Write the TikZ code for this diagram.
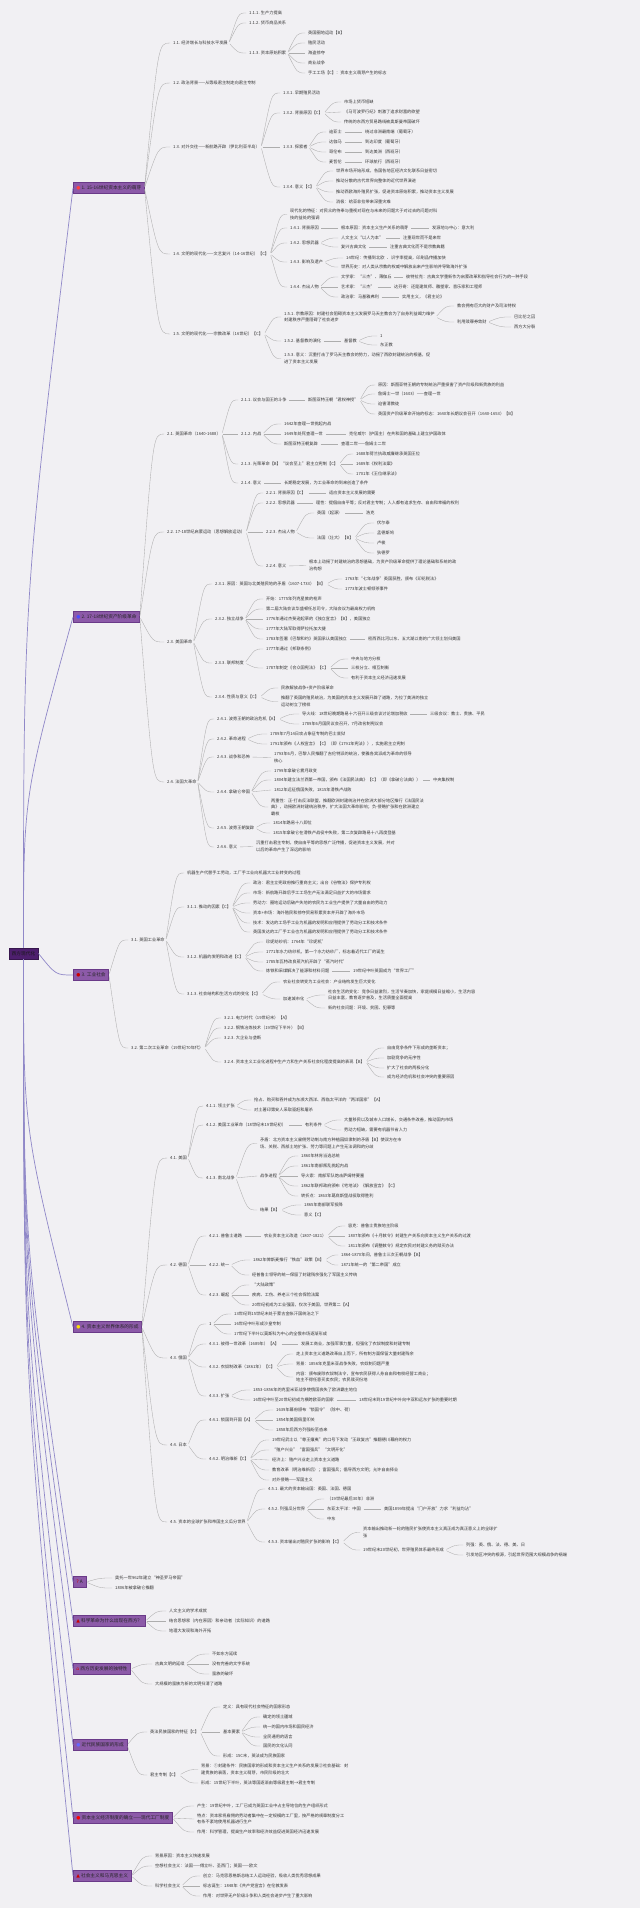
\documentclass[tikz,border=0pt]{standalone}
\usepackage{fontspec}
\setmainfont{Noto Sans CJK SC}
\newfontfamily\symfont{DejaVu Sans}
\usetikzlibrary{calc}
\definecolor{paper}{HTML}{F1F0F3}
\definecolor{ink}{HTML}{353535}
\definecolor{twig}{HTML}{ADADAD}
\definecolor{trunkc}{HTML}{9088C8}
\definecolor{plum}{HTML}{8C5AA8}
\definecolor{plumedge}{HTML}{6A3A88}
\definecolor{rootc}{HTML}{4E1F6E}
\newcommand\chapicon[2]{{\symfont\color{#1}#2}\hspace{1.2pt}}
\newcommand\kid[5]{\node[topic] (#2) at (#3,#4) {#5};
  \draw[branch] (#1.east) .. controls ($(#1.east |- #2.west)!0.5!(#2.west)$) .. (#2.west);}
\newcommand\trunkto[2]{\draw[trunk] (root.#1) .. controls ($(root.#1)!0.46!(root.#1 |- #2.west)$) .. (#2.west);}
\begin{document}
\begin{tikzpicture}[x = 1pt, y = -1pt,
    topic/.style = {anchor = west, inner xsep = 1pt, inner ysep = 0.6pt, align = left, text = ink, font = \fontsize{4.2}{6.6}\selectfont},
    chapter/.style = {anchor = west, fill = plum, draw = plumedge, line width = 0.5pt, inner xsep = 3pt, minimum height = 11pt, text = black!85, font = \fontsize{4.7}{5.5}\selectfont},
    rootbox/.style = {fill = rootc, draw = rootc!70!black, line width = 0.5pt, minimum height = 11pt, inner xsep = 3pt, text = black!90, font = \fontsize{4.7}{5.5}\selectfont},
    branch/.style = {draw = twig, line width = 0.35pt, shorten <= 1.5pt, shorten >= 2pt},
    trunk/.style = {draw = trunkc, line width = 0.7pt}]
    \fill[paper] (0,0) rectangle (640,1908);
    \useasboundingbox (0,0) rectangle (640,1908);

    \node[rootbox] (root) at (23.5,953.5) {西方现代化};

    \node[chapter] (A) at (73,188) {\chapicon{red!75!white}{●}1. 15-16世纪资本主义的萌芽};
    \node[chapter] (B) at (73,617) {\chapicon{blue!70!white}{●}2. 17-18世纪资产阶级革命};
    \node[chapter] (C) at (73,975) {\chapicon{red!80!black}{●}3. 工业社会};
    \node[chapter] (D) at (73,1327) {\chapicon{yellow!80!orange}{●}4. 资本主义世界体系的形成};
    \node[chapter] (E) at (73,1582) {\chapicon{red!80!black}{?}A};
    \node[chapter] (F) at (73,1621) {\chapicon{red!80!black}{▲}科学革命为什么出现在西方？};
    \node[chapter] (G) at (73,1669) {\chapicon{red!85!black}{⌂}西方历史发展的独特性};
    \node[chapter] (H) at (73,1745) {\chapicon{blue!60!white}{●}近代民族国家的形成};
    \node[chapter] (I) at (73,1818) {\chapicon{red}{●}资本主义经济制度的确立——现代工厂制度};
    \node[chapter] (J) at (73,1876) {\chapicon{red!80!black}{▲}社会主义和马克思主义};

    \trunkto{north}{A}
    \trunkto{north}{B}
    \draw[trunk] (root.east) .. controls ($(root.east |- C.west)!0.5!(C.west)$) .. (C.west);
    \trunkto{south}{D}
    \trunkto{south}{E}
    \trunkto{south}{F}
    \trunkto{south}{G}
    \trunkto{south}{H}
    \trunkto{south}{I}
    \trunkto{south}{J}

    \kid{A}{a1}{172}{43}{1.1. 经济增长与科技水平发展}
    \kid{a1}{a11}{248}{13}{1.1.1. 生产力提高}
    \kid{a1}{a12}{248}{23}{1.1.2. 货币商品关系}
    \kid{a1}{a13}{248}{53}{1.1.3. 资本原始积累}
    \kid{a13}{a131}{307}{33}{英国圈地运动【B】}
    \kid{a13}{a132}{307}{43}{殖民活动}
    \kid{a13}{a133}{307}{53}{海盗掠夺}
    \kid{a13}{a134}{307}{63}{商业战争}
    \kid{a13}{a135}{307}{73}{手工工场【C】：资本主义萌芽产生的标志}
    \kid{A}{a2}{172}{83}{1.2. 政治背景——从等级君主制走向君主专制}
    \kid{A}{a3}{172}{147}{1.3. 对外交往——新航路开辟（伊比利亚半岛）}
    \kid{a3}{a31}{282}{93}{1.3.1. 早期殖民活动}
    \kid{a3}{a32}{282}{113}{1.3.2. 背景原因【C】}
    \kid{a32}{a321}{343}{102}{市场上货币短缺}
    \kid{a32}{a322}{343}{112}{《马可波罗行纪》刺激了追求财富的欲望}
    \kid{a32}{a323}{343}{122}{传统的东西方贸易路线被奥斯曼帝国破坏}
    \kid{a3}{a33}{282}{147}{1.3.3. 探索者}
    \kid{a33}{a331}{328}{132}{迪亚士}
    \kid{a331}{a3311}{364}{132}{绕过非洲最南端（葡萄牙）}
    \kid{a33}{a332}{328}{142}{达伽马}
    \kid{a332}{a3321}{364}{142}{到达印度（葡萄牙）}
    \kid{a33}{a333}{328}{152}{哥伦布}
    \kid{a333}{a3331}{364}{152}{到达美洲（西班牙）}
    \kid{a33}{a334}{328}{162}{麦哲伦}
    \kid{a334}{a3341}{364}{162}{环球航行（西班牙）}
    \kid{a3}{a34}{282}{187}{1.3.4. 意义【C】}
    \kid{a34}{a341}{335}{171}{世界市场开始形成，各国各地区经济文化联系日益密切}
    \kid{a34}{a342}{335}{181}{推动分散的古代世界向整体的近代世界演进}
    \kid{a34}{a343}{335}{192}{推动西欧海外殖民扩张，促进资本原始积累，推动资本主义发展}
    \kid{a34}{a344}{335}{202}{消极：给亚非拉带来深重灾难}
    \kid{A}{a4}{172}{254}{1.4. 文明的现代化——文艺复兴（14-16世纪）【C】}
    \kid{a4}{a41}{289}{214.5}{现代化的特征：对民众的侍奉与重视对现在与未来的问题大于对过去的问题对科\\技的益处的强调}
    \kid{a4}{a42}{289}{228}{1.4.1. 背景原因}
    \kid{a42}{a421}{340}{228}{根本原因：资本主义生产关系的萌芽}
    \kid{a421}{a422}{431}{228}{发源地与中心：意大利}
    \kid{a4}{a43}{289}{243}{1.4.2. 思想武器}
    \kid{a43}{a431}{340}{238}{人文主义“以人为本”}
    \kid{a431}{a4311}{402}{238}{注重现世而不是来世}
    \kid{a43}{a432}{340}{247}{复兴古典文化}
    \kid{a432}{a4321}{389}{247}{注重古典文化而不是宗教典籍}
    \kid{a4}{a44}{289}{262}{1.4.3. 影响及遗产}
    \kid{a44}{a441}{345}{258}{14世纪：传播到北欧}
    \kid{a441}{a4411}{390}{258}{识字率提高，印刷品传播加快}
    \kid{a44}{a442}{340}{267}{世界历史：对人类从宗教的权威中解放出来产生影响并导致海外扩张}
    \kid{a4}{a45}{289}{287}{1.4.4. 杰出人物}
    \kid{a45}{a451}{340}{277}{文学家：“三杰”、薄伽丘}
    \kid{a451}{a4511}{405}{277}{彼特拉克：古典文学重新作为启蒙改革和指导社会行为的一种手段}
    \kid{a45}{a452}{340}{287}{艺术家：“三杰”}
    \kid{a452}{a4521}{393}{287}{达芬奇：还是建筑师、雕塑家、音乐家和工程师}
    \kid{a45}{a453}{340}{297}{政治家：马基雅弗利}
    \kid{a453}{a4531}{401}{297}{实用主义，《君主论》}
    \kid{A}{a5}{172}{334}{1.5. 文明的现代化——宗教改革（16世纪）【C】}
    \kid{a5}{a51}{283}{317}{1.5.1. 宗教原因：封建社会阻碍资本主义发展罗马天主教会为了自身利益竭力维护\\封建秩序严重阻碍了社会进步}
    \kid{a51}{a511}{456}{306}{教会拥有巨大的财产及司法特权}
    \kid{a51}{a512}{456}{322}{利用赎罪券敛财}
    \kid{a512}{a5121}{513}{317}{巴比伦之囚}
    \kid{a512}{a5122}{513}{327}{西方大分裂}
    \kid{a5}{a52}{283}{341}{1.5.2. 基督教的演化}
    \kid{a52}{a521}{343}{341}{基督教}
    \kid{a521}{a5211}{379}{336}{1}
    \kid{a521}{a5212}{379}{345}{东正教}
    \kid{a5}{a53}{283}{358.5}{1.5.3. 意义：沉重打击了罗马天主教会的势力，动摇了西欧封建统治的根基，促\\进了资本主义发展}

    \kid{B}{b1}{166}{434}{2.1. 英国革命（1640-1688）}
    \kid{b1}{b11}{240}{400}{2.1.1. 议会与国王的斗争}
    \kid{b11}{b111}{307}{400}{斯图亚特王朝“君权神授”}
    \kid{b111}{b1111}{377}{385}{原因：斯图亚特王朝的专制统治严重损害了资产阶级和新贵族的利益}
    \kid{b111}{b1112}{377}{394}{詹姆士一世（1603）——查理一世}
    \kid{b111}{b1113}{377}{404}{迫害清教徒}
    \kid{b111}{b1114}{377}{414}{英国资产阶级革命开始的标志：1640年长期议会召开（1640-1653）【B】}
    \kid{b1}{b12}{240}{434}{2.1.2. 内战}
    \kid{b12}{b121}{283}{424}{1642年查理一世挑起内战}
    \kid{b12}{b122}{283}{434}{1649年处死查理一世}
    \kid{b122}{b1221}{348}{434}{克伦威尔（护国主）在共和国的基础上建立护国政体}
    \kid{b12}{b123}{283}{444}{斯图亚特王朝复辟}
    \kid{b123}{b1231}{340}{444}{查理二世——詹姆士二世}
    \kid{b1}{b13}{240}{464}{2.1.3. 光荣革命【B】“议会至上”君主立宪制【C】}
    \kid{b13}{b131}{355}{454}{1688年荷兰执政威廉继承英国王位}
    \kid{b13}{b132}{355}{464}{1689年《权利法案》}
    \kid{b13}{b133}{355}{474}{1701年《王位继承法》}
    \kid{b1}{b14}{240}{483}{2.1.4. 意义}
    \kid{b14}{b141}{283}{483}{长期稳定发展，为工业革命的到来创造了条件}
    \kid{B}{b2}{166}{532}{2.2. 17-18世纪启蒙运动（思想解放运动）}
    \kid{b2}{b21}{265}{493}{2.2.1. 背景原因【C】}
    \kid{b21}{b211}{328}{493}{适应资本主义发展的需要}
    \kid{b2}{b22}{265}{503}{2.2.2. 思想武器}
    \kid{b22}{b221}{315}{503}{理性：提倡自由平等；反对君主专制；人人都有追求生存、自由和幸福的权利}
    \kid{b2}{b23}{265}{532}{2.2.3. 杰出人物}
    \kid{b23}{b231}{316}{513}{英国（起源）}
    \kid{b231}{b2311}{365}{513}{洛克}
    \kid{b23}{b232}{316}{538}{法国（壮大）【B】}
    \kid{b232}{b2321}{376}{523}{伏尔泰}
    \kid{b232}{b2322}{376}{533}{孟德斯鸠}
    \kid{b232}{b2323}{376}{543}{卢梭}
    \kid{b232}{b2324}{376}{553}{狄德罗}
    \kid{b2}{b24}{265}{566}{2.2.4. 意义}
    \kid{b24}{b241}{308}{565.5}{根本上动摇了封建统治的思想基础，为资产阶级革命提供了理论基础和系统的政\\治构想}
    \kid{B}{b3}{166}{642}{2.3. 美国革命}
    \kid{b3}{b31}{214}{584}{2.3.1. 原因：英国与北美殖民地的矛盾（1607-1733）【B】}
    \kid{b31}{b311}{344}{579}{1763年“七年战争”英国获胜，颁布《印花税法》}
    \kid{b31}{b312}{344}{589}{1773年波士顿倾茶事件}
    \kid{b3}{b32}{214}{619}{2.3.2. 独立战争}
    \kid{b32}{b321}{265}{599}{开始：1775年列克星敦的枪声}
    \kid{b32}{b322}{265}{609}{第二届大陆会议华盛顿任总司令，大陆会议为最高权力机构}
    \kid{b32}{b323}{265}{619}{1776年通过杰斐逊起草的《独立宣言》【B】，美国独立}
    \kid{b32}{b324}{265}{629}{1777年大陆军取得萨拉托加大捷}
    \kid{b32}{b325}{265}{639}{1783年签署《巴黎和约》英国承认美国独立}
    \kid{b325}{b3251}{367}{639}{密西西比河以东、五大湖以南的广大领土划归美国}
    \kid{b3}{b33}{214}{663}{2.3.3. 联邦制度}
    \kid{b33}{b331}{265}{649}{1777年通过《邦联条例》}
    \kid{b33}{b332}{265}{668}{1787年制定《合众国宪法》【C】}
    \kid{b332}{b3321}{350}{659}{中央与地方分权}
    \kid{b332}{b3322}{350}{668}{三权分立、相互制衡}
    \kid{b332}{b3323}{350}{678}{有利于资本主义经济迅速发展}
    \kid{b3}{b34}{214}{697}{2.3.4. 性质与意义【C】}
    \kid{b34}{b341}{280}{688}{民族解放战争+资产阶级革命}
    \kid{b34}{b342}{280}{701.5}{推翻了英国的殖民统治，为美国的资本主义发展开辟了道路，为拉丁美洲的独立\\运动树立了榜样}
    \kid{B}{b4}{166}{782}{2.4. 法国大革命}
    \kid{b4}{b41}{216}{719}{2.4.1. 波旁王朝的政治危机【A】}
    \kid{b41}{b411}{301}{714}{导火线：18世纪晚期路易十六召开三级会议讨论增加税收}
    \kid{b411}{b4111}{429}{714}{三级会议：教士、贵族、平民}
    \kid{b41}{b412}{301}{724}{1789年6月国民议会召开，7月改名制宪议会}
    \kid{b4}{b42}{216}{739}{2.4.2. 革命进程}
    \kid{b42}{b421}{269}{734}{1789年7月14日攻占象征专制的巴士底狱}
    \kid{b42}{b422}{269}{744}{1791年颁布《人权宣言》【C】（即《1791年宪法》），实施君主立宪制}
    \kid{b4}{b43}{216}{757}{2.4.3. 战争和恐怖}
    \kid{b43}{b431}{273}{757.5}{1793年6月，巴黎人民推翻了吉伦特派的统治，使雅各宾派成为革命的领导\\核心}
    \kid{b4}{b44}{216}{792}{2.4.4. 拿破仑帝国}
    \kid{b44}{b441}{273}{771}{1799年拿破仑雾月政变}
    \kid{b44}{b442}{273}{780}{1804年建立法兰西第一帝国，颁布《法国民法典》【C】（即《拿破仑法典》）}
    \kid{b442}{b4421}{432}{780}{中央集权制}
    \kid{b44}{b443}{273}{790}{1812年远征俄国失败，1815年滑铁卢战败}
    \kid{b44}{b444}{270}{807}{两重性：正-打击反法联盟，推翻欧洲封建统治并在欧洲大部分地区推行《法国民法\\典》，动摇欧洲封建统治秩序，扩大法国大革命影响；负-侵略扩张和在欧洲建立\\霸权}
    \kid{b4}{b45}{216}{828}{2.4.5. 波旁王朝复辟}
    \kid{b45}{b451}{272}{823}{1814年路易十八即位}
    \kid{b45}{b452}{272}{833}{1815年拿破仑在滑铁卢战役中失败，第二次复辟路易十八再度登基}
    \kid{b4}{b46}{216}{847}{2.4.6. 意义}
    \kid{b46}{b461}{255}{846.5}{沉重打击君主专制，使自由平等的思想广泛传播，促进资本主义发展，并对\\以后的革命产生了深远的影响}

    \kid{C}{c1}{130}{940}{3.1. 英国工业革命}
    \kid{c1}{c11}{186}{873}{机器生产代替手工劳动，工厂手工业向机器大工业转变的过程}
    \kid{c1}{c12}{186}{907}{3.1.1. 推动的因素【C】}
    \kid{c12}{c121}{252}{883}{政治：君主立宪政府推行重商主义；出台《谷物法》保护专利权}
    \kid{c12}{c122}{252}{893}{市场：新航路开辟后手工工场生产无法满足日益扩大的市场需求}
    \kid{c12}{c123}{252}{903}{劳动力：圈地运动后破产失地的农民为工业生产提供了大量自由的劳动力}
    \kid{c12}{c124}{252}{913}{资本+市场：海外殖民和掠夺贸易积累资本并开辟了海外市场}
    \kid{c12}{c125}{252}{923}{技术：发达的工场手工业为机器的发明和应用提供了劳动分工和技术条件}
    \kid{c12}{c126}{252}{932}{英国发达的工厂手工业也为机器的发明和应用提供了劳动分工和技术条件}
    \kid{c1}{c13}{186}{957}{3.1.2. 机器的发明和改进【C】}
    \kid{c13}{c131}{265}{942}{珍妮纺纱机：1764年“珍妮机”}
    \kid{c13}{c132}{265}{952}{1771年水力纺纱机，第一个水力纺纱厂，标志着近代工厂的诞生}
    \kid{c13}{c133}{265}{962}{1785年瓦特改良蒸汽机开辟了“蒸汽时代”}
    \kid{c13}{c134}{265}{971}{炼铁和采煤解决了能源和材料问题}
    \kid{c134}{c1341}{352}{971}{19世纪中叶英国成为“世界工厂”}
    \kid{c1}{c14}{186}{994}{3.1.3. 社会结构和生活方式的变化【C】}
    \kid{c14}{c141}{282}{982}{农业社会转变为工业社会：产业结构发生巨大变化}
    \kid{c14}{c142}{282}{999}{加速城市化}
    \kid{c142}{c1421}{327}{995}{社会生活的变化：竞争日益激烈，生活节奏加快，家庭规模日益缩小，生活内容\\日益丰富，教育逐步普及，生活质量全面提高}
    \kid{c142}{c1422}{327}{1008}{新的社会问题：环境、贫困、犯罪等}
    \kid{C}{c2}{130}{1048}{3.2. 第二次工业革命（19世纪70年代）}
    \kid{c2}{c21}{223}{1018}{3.2.1. 电力时代（19世纪末）【A】}
    \kid{c2}{c22}{223}{1028}{3.2.2. 钢铁冶炼技术（19世纪下半叶）【B】}
    \kid{c2}{c23}{223}{1038}{3.2.3. 大企业与垄断}
    \kid{c2}{c24}{223}{1062}{3.2.4. 资本主义工业化进程中生产力和生产关系社会化程度提高的表现【B】}
    \kid{c24}{c241}{386}{1048}{自由竞争条件下形成的垄断资本；}
    \kid{c24}{c242}{386}{1058}{加剧竞争的无序性}
    \kid{c24}{c243}{386}{1068}{扩大了社会的两极分化}
    \kid{c24}{c244}{386}{1077}{成为经济危机和社会冲突的重要原因}

    \kid{D}{d1}{169}{1158}{4.1. 美国}
    \kid{d1}{d11}{205}{1106}{4.1.1. 领土扩张}
    \kid{d11}{d111}{253}{1100}{抢占、购买和吞并成为东濒大西洋、西临太平洋的“两洋国家”【A】}
    \kid{d11}{d112}{253}{1110}{对土著印第安人采取驱赶和屠杀}
    \kid{d1}{d12}{205}{1125}{4.1.2. 美国工业革命（18世纪末19世纪初）}
    \kid{d12}{d121}{304}{1125}{有利条件}
    \kid{d121}{d1211}{343}{1120}{大量移民以及城市人口增长，交通条件改善，推动国内市场}
    \kid{d121}{d1212}{343}{1130}{劳动力短缺，需要有机器节省人力}
    \kid{d1}{d13}{205}{1178}{4.1.3. 南北战争}
    \kid{d13}{d131}{259}{1143.5}{矛盾：北方资本主义雇佣劳动制与南方种植园奴隶制的矛盾【B】使双方在市\\场、关税、西部土地扩张、劳力等问题上产生无法调和的分歧}
    \kid{d13}{d132}{259}{1176}{战争进程}
    \kid{d132}{d1321}{300}{1156}{1860年林肯当选总统}
    \kid{d132}{d1322}{300}{1166}{1861年南部叛乱挑起内战}
    \kid{d132}{d1323}{300}{1176}{导火索：南部军队炮击萨姆特要塞}
    \kid{d132}{d1324}{300}{1186}{1862年联邦政府颁布《宅地法》《解放宣言》【C】}
    \kid{d132}{d1325}{300}{1196}{转折点：1863年葛底斯堡战役取得胜利}
    \kid{d13}{d133}{259}{1210}{结果【B】}
    \kid{d133}{d1331}{303}{1205}{1865年南部联军投降}
    \kid{d133}{d1332}{303}{1215}{意义【C】}
    \kid{D}{d2}{169}{1265}{4.2. 德国}
    \kid{d2}{d21}{208}{1236}{4.2.1. 普鲁士道路}
    \kid{d21}{d211}{263}{1236}{农业资本主义改造（1807-1821）}
    \kid{d211}{d2111}{347}{1226}{容克：普鲁士贵族地主阶级}
    \kid{d211}{d2112}{347}{1236}{1807年颁布《十月敕令》封建生产关系向资本主义生产关系的过渡}
    \kid{d211}{d2113}{347}{1246}{1811年颁布《调整敕令》规定农民对封建义务的赎买办法}
    \kid{d2}{d22}{208}{1265}{4.2.2. 统一}
    \kid{d22}{d221}{252}{1260}{1862年俾斯麦推行“铁血”政策【B】}
    \kid{d221}{d2211}{340}{1255}{1864-1870年间，普鲁士三次王朝战争【B】}
    \kid{d221}{d2212}{340}{1265}{1871年统一的“第二帝国”成立}
    \kid{d22}{d222}{251}{1275}{经普鲁士领导的统一保留了封建残余强化了军国主义传统}
    \kid{d2}{d23}{208}{1295}{4.2.3. 崛起}
    \kid{d23}{d231}{251}{1285}{“大陆政策”}
    \kid{d23}{d232}{251}{1295}{疾病、工伤、养老三个社会保险法案}
    \kid{d23}{d233}{251}{1305}{20世纪初成为工业强国，仅次于美国，世界第二【A】}
    \kid{D}{d3}{169}{1358}{4.3. 俄国}
    \kid{d3}{d31}{208}{1324}{1}
    \kid{d31}{d311}{233}{1314}{13世纪到15世纪末处于蒙古金帐汗国统治之下}
    \kid{d31}{d312}{233}{1324}{16世纪中叶形成沙皇专制}
    \kid{d31}{d313}{233}{1334}{17世纪下半叶以莫斯科为中心的全俄市场逐渐形成}
    \kid{d3}{d32}{208}{1344}{4.3.1. 彼得一世改革（1689年）【A】}
    \kid{d32}{d321}{300}{1344}{发展工商业，加强军事力量，但强化了农奴制度和封建专制}
    \kid{d3}{d33}{208}{1367}{4.3.2. 农奴制改革（1861年）【C】}
    \kid{d33}{d331}{295}{1354}{走上资本主义道路改革自上而下，所有制方面保留大量封建残余}
    \kid{d33}{d332}{295}{1364}{背景：1856年克里米亚战争失败，农奴制问题严重}
    \kid{d33}{d333}{295}{1377}{内容：颁布废除农奴制法令，宣布农民获得人身自由和有权经营工商业；\\地主不得任意买卖农民；农民赎买份地}
    \kid{d3}{d34}{208}{1396}{4.3.3. 扩张}
    \kid{d34}{d341}{252}{1390}{1853-1856年的克里米亚战争使俄国丧失了欧洲霸主地位}
    \kid{d34}{d342}{252}{1400}{16世纪中叶至20世纪初成为横跨欧亚的国家}
    \kid{d342}{d3421}{358}{1400}{18世纪末到19世纪中叶向中亚和远东扩张的重要时期}
    \kid{D}{d4}{169}{1445}{4.4. 日本}
    \kid{d4}{d41}{208}{1420}{4.4.1. 锁国到开国【A】}
    \kid{d41}{d411}{275}{1410}{1639年幕府颁布“锁国令”（除中、荷）}
    \kid{d41}{d412}{275}{1420}{1854年美国佩里叩关}
    \kid{d41}{d413}{275}{1430}{1858年后西方列强纷至沓来}
    \kid{d4}{d42}{208}{1459}{4.4.2. 明治维新【C】}
    \kid{d42}{d421}{271}{1440}{19世纪武士以“尊王攘夷”的口号下发动“王政复古”推翻德川幕府的权力}
    \kid{d42}{d422}{271}{1450}{“殖产兴业”“富国强兵”“文明开化”}
    \kid{d42}{d423}{271}{1460}{经济上：殖产兴业走上资本主义道路}
    \kid{d42}{d424}{271}{1470}{教育改革（明治维新后）；富国强兵；倡导西方文明；允许自由择业}
    \kid{d42}{d425}{271}{1480}{对外侵略——军国主义}
    \kid{D}{d5}{169}{1522}{4.5. 资本的全球扩张和帝国主义瓜分世界}
    \kid{d5}{d51}{267}{1489}{4.5.1. 最大的资本输出国：英国、法国、德国}
    \kid{d5}{d52}{267}{1509}{4.5.2. 列强瓜分世界}
    \kid{d52}{d521}{326}{1499}{（19世纪最后30年）非洲}
    \kid{d52}{d522}{326}{1509}{东亚太平洋：中国}
    \kid{d522}{d5221}{383}{1509}{美国1899年提出“门户开放”力求“利益均沾”}
    \kid{d52}{d523}{326}{1519}{中东}
    \kid{d5}{d53}{267}{1542}{4.5.3. 资本输出对殖民扩张的影响【C】}
    \kid{d53}{d531}{362}{1532.5}{资本输出推动新一轮的殖民扩张使资本主义真正成为真正意义上的全球扩\\张}
    \kid{d53}{d532}{362}{1550}{19世纪末20世纪初，世界殖民体系最终形成}
    \kid{d532}{d5321}{465}{1545}{列强：英、俄、法、德、美、日}
    \kid{d532}{d5322}{465}{1555}{引发地区冲突的根源，引起世界范围大规模战争的祸端}

    \kid{E}{e1}{114}{1578}{奥托一世962年建立“神圣罗马帝国”}
    \kid{E}{e2}{114}{1588}{1806年被拿破仑推翻}

    \kid{F}{f1}{168}{1611}{人文主义的学术成就}
    \kid{F}{f2}{168}{1621}{结合思想家（内在原因）和亲动者（实际知识）的道路}
    \kid{F}{f3}{168}{1631}{地理大发现和海外开拓}

    \kid{G}{g1}{154}{1664}{古典文明的延续}
    \kid{g1}{g11}{211}{1654}{不如东方延续}
    \kid{g1}{g12}{211}{1664}{没有完善的文字系统}
    \kid{g1}{g13}{211}{1674}{蛮族的破坏}
    \kid{G}{g2}{154}{1684}{大规模的蛮族为新的文明扫清了道路}

    \kid{H}{h1}{149}{1732}{英法民族国家的特征【C】}
    \kid{h1}{h11}{222}{1707}{定义：具有现代社会特征的国家形态}
    \kid{h1}{h12}{222}{1732}{基本要素}
    \kid{h12}{h121}{262}{1717}{确定的领土疆域}
    \kid{h12}{h122}{262}{1727}{统一的国内市场和国民经济}
    \kid{h12}{h123}{262}{1737}{全民通用的语言}
    \kid{h12}{h124}{262}{1746}{国民的文化认同}
    \kid{h1}{h13}{222}{1756}{形成：15C末，英法成为民族国家}
    \kid{H}{h2}{149}{1775}{君主专制【C】}
    \kid{h2}{h21}{200}{1769.5}{背景：①封建条件：民族国家的形成和资本主义生产关系的发展②社会基础：封\\建贵族的衰落，资本主义萌芽，市民阶级的壮大}
    \kid{h2}{h22}{200}{1783}{形成：15世纪下半叶，英法等国逐渐由等级君主制→君主专制}

    \kid{I}{i1}{196}{1806}{产生：19世纪中叶，工厂已成为英国工业中占主导地位的生产组织形式}
    \kid{I}{i2}{196}{1819}{特点：资本家将雇佣的劳动者集中在一定规模的工厂里，按严格的规章制度分工\\有条不紊地使用机器进行生产}
    \kid{I}{i3}{196}{1832}{作用：科学管理，提高生产效率和经济效益促进英国经济迅速发展}

    \kid{J}{j1}{154}{1856}{背景原因：资本主义快速发展}
    \kid{J}{j2}{154}{1866}{空想社会主义：法国——傅立叶、圣西门；英国——欧文}
    \kid{J}{j3}{154}{1886}{科学社会主义}
    \kid{j3}{j31}{202}{1876}{创立：马克思恩格斯总结工人运动经验，吸收人类优秀思想成果}
    \kid{j3}{j32}{202}{1886}{标志诞生：1848年《共产党宣言》在伦敦发表}
    \kid{j3}{j33}{202}{1896}{作用：对世界无产阶级斗争和人类社会进步产生了重大影响}
\end{tikzpicture}
\end{document}
